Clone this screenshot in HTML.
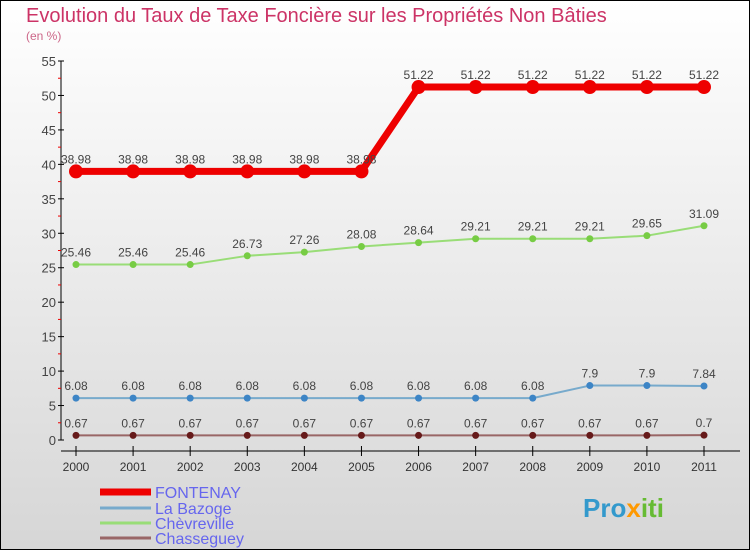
<!DOCTYPE html>
<html><head><meta charset="utf-8"><style>
body{margin:0}
svg{display:block;font-family:"Liberation Sans",sans-serif}
</style></head><body>
<svg width="750" height="550" viewBox="0 0 750 550">
<defs><linearGradient id="bg" x1="0" y1="0" x2="0" y2="1"><stop offset="0" stop-color="#ffffff"/><stop offset="1" stop-color="#d6d6d6"/></linearGradient></defs>
<rect x="0.5" y="0.5" width="749" height="549" fill="url(#bg)" stroke="#000"/>
<text x="26" y="22" font-size="20" fill="#cc3366">Evolution du Taux de Taxe Foncière sur les Propriétés Non Bâties</text>
<text x="26" y="40" font-size="12" fill="#cc6688">(en %)</text>
<g id="axes"></g>
<g id="series"></g>
<g id="legend"></g>
<text x="583" y="517" font-size="26" font-weight="bold"><tspan fill="#3399cc">Pro</tspan><tspan fill="#ff9900">x</tspan><tspan fill="#66bb33">iti</tspan></text>
</svg>
<script>
const years=[2000,2001,2002,2003,2004,2005,2006,2007,2008,2009,2010,2011];
const fontenay=[38.98,38.98,38.98,38.98,38.98,38.98,51.22,51.22,51.22,51.22,51.22,51.22];
const bazoge=[6.08,6.08,6.08,6.08,6.08,6.08,6.08,6.08,6.08,7.9,7.9,7.84];
const chevreville=[25.46,25.46,25.46,26.73,27.26,28.08,28.64,29.21,29.21,29.21,29.65,31.09];
const chasseguey=[0.67,0.67,0.67,0.67,0.67,0.67,0.67,0.67,0.67,0.67,0.67,0.7];
const yTicks=[0,5,10,15,20,25,30,35,40,45,50,55];
const seriesNames=["FONTENAY","La Bazoge","Chèvreville","Chasseguey"];
const NS="http://www.w3.org/2000/svg";
const X=i=>76+i*(704-76)/(years.length-1);
const Y=v=>440-v*(440-61)/55;
function mk(tag,attrs,parent,txt){const e=document.createElementNS(NS,tag);for(const k in attrs)e.setAttribute(k,attrs[k]);if(txt!==undefined)e.textContent=txt;parent.appendChild(e);return e;}
const axes=document.getElementById('axes');
let el=mk('line',{x1:61,y1:61,x2:61,y2:440,stroke:'#000'},axes);


el=mk('line',{x1:61,y1:451,x2:740,y2:451,stroke:'#000'},axes);


yTicks.forEach(t=>{
 mk('line',{x1:58,y1:Y(t),x2:64,y2:Y(t),stroke:'#000'},axes);
 if(t<55)mk('line',{x1:58,y1:Y(t+2.5),x2:61,y2:Y(t+2.5),stroke:'#e00'},axes);
 el=mk('text',{x:56,y:Y(t)+5,'font-size':13,fill:'#444','text-anchor':'end'},axes,t);
 
 
});
years.forEach((y,i)=>{
 mk('line',{x1:X(i),y1:446,x2:X(i),y2:456,stroke:'#000'},axes);
 el=mk('text',{x:X(i),y:471,'font-size':12,fill:'#333','text-anchor':'middle'},axes,y);
 
 
});
const sg=document.getElementById('series');
function series(vals,color,w,r,dot,name){
 const g=mk('g',{},sg);
 
 
 mk('polyline',{points:vals.map((v,i)=>X(i)+','+Y(v)).join(' '),fill:'none',stroke:color,'stroke-width':w,'stroke-linejoin':'round'},g);
 vals.forEach((v,i)=>{
  el=mk('circle',{cx:X(i),cy:Y(v),r:r,fill:dot},g);
  
  
  el=mk('text',{x:X(i),y:Y(v)-8,'font-size':12,fill:'#444','text-anchor':'middle'},g,v);
  
  
 });
}
series(chasseguey,'#996666',2,3.5,'#661a1a','series-chasseguey');
series(bazoge,'#77aacc',2,3.5,'#3d85c6','series-la-bazoge');
series(chevreville,'#99dd77',2,3.5,'#77cc44','series-chevreville');
series(fontenay,'#ee0000',7,7,'#ee0000','series-fontenay');
const lg=document.getElementById('legend');
const lc=['#ee0000','#77aacc','#99dd77','#996666'],lw=[7,3,3,3],ly=[492,508,523,538];
seriesNames.forEach((n,i)=>{
 const g=mk('g',{},lg);
 
 
 mk('line',{x1:100,y1:ly[i],x2:151,y2:ly[i],stroke:lc[i],'stroke-width':lw[i]},g);
 mk('text',{x:155,y:ly[i]+6,'font-size':16,fill:'#6666ee'},g,n);
});
</script>
</body></html>
